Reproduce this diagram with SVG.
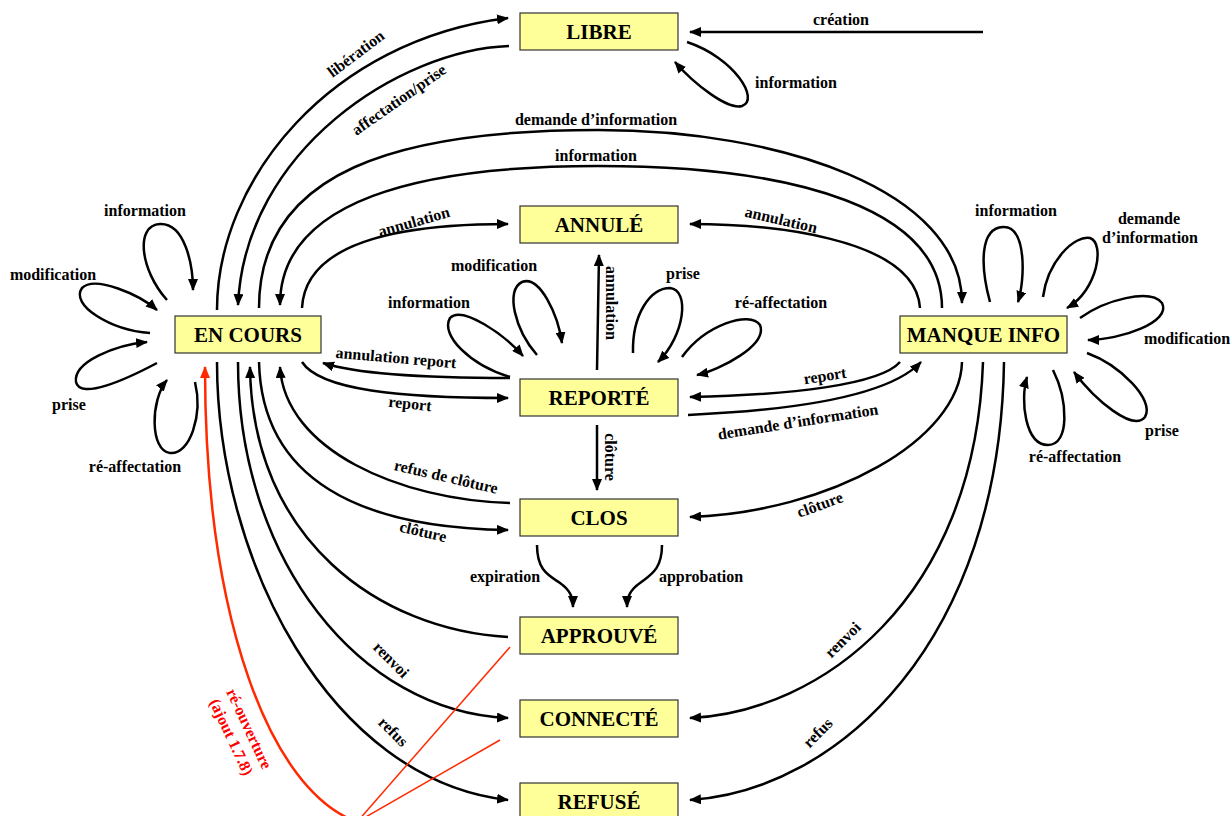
<svg xmlns="http://www.w3.org/2000/svg" width="1232" height="816" viewBox="0 0 1232 816">
  <style>
    .node rect { fill: #FFFF99; stroke: #333333; stroke-width: 1.2; }
    .node text { font-family: "Liberation Serif", "Times New Roman", serif; font-weight: bold; font-size: 21px; fill: #000; text-anchor: middle; }
    .edge { fill: none; stroke: #000; stroke-width: 2.5; marker-end: url(#ah); }
    .red { fill: none; stroke: #FF2A00; stroke-width: 2.5; }
    .redthin { fill: none; stroke: #FF2A00; stroke-width: 1.5; }
    .lbl { font-family: "Liberation Serif", "Times New Roman", serif; font-weight: bold; font-size: 16px; fill: #000; text-anchor: middle; }
    .rlbl { font-family: "Liberation Serif", "Times New Roman", serif; font-weight: bold; font-size: 16px; fill: #FF0000; text-anchor: middle; }
  </style>
  <defs>
    <marker id="ah" viewBox="0 0 12 10" refX="11" refY="5" markerWidth="12" markerHeight="10" markerUnits="userSpaceOnUse" orient="auto">
      <path d="M0,0 L12,5 L0,10 z" fill="#000"/>
    </marker>
    <marker id="ahr" viewBox="0 0 12 10" refX="11" refY="5" markerWidth="12" markerHeight="10" markerUnits="userSpaceOnUse" orient="auto">
      <path d="M0,0 L12,5 L0,10 z" fill="#FF2A00"/>
    </marker>
  </defs>

  <rect x="0" y="0" width="1232" height="816" fill="#FFFFFF"/>

  <!-- transitions -->
  <g id="connectors">
    <!-- creation and LIBRE -->
    <path class="edge" d="M983,32 L690,32"/>
    <path class="edge" d="M687,42 C735,58 760,100 742,106 C728,110 695,85 675,62"/>
    <path class="edge" d="M217,310 C217,180 330,40 508,18"/>
    <path class="edge" d="M509,46 C400,50 245,150 238,305"/>

    <!-- EN COURS <-> MANQUE INFO -->
    <path class="edge" d="M259,308 C259,170 400,130 598,130 C780,130 962,190 962,303"/>
    <path class="edge" d="M942,308 C942,210 800,166 598,166 C420,166 280,200 280,305"/>

    <!-- to ANNULE -->
    <path class="edge" d="M302,308 C305,250 380,224 508,224"/>
    <path class="edge" d="M920,308 C915,235 760,224 690,224"/>
    <path class="edge" d="M597,370 L599,255"/>

    <!-- EN COURS <-> REPORTE / CLOS -->
    <path class="edge" d="M302,362 C320,390 400,398 508,398"/>
    <path class="edge" d="M510,378 C430,378 360,375 323,363"/>
    <path class="edge" d="M510,503 C400,500 285,450 280,367"/>
    <path class="edge" d="M259,362 C262,480 360,528 508,530"/>
    <path class="edge" d="M508,637 C380,630 252,540 250,367"/>
    <path class="edge" d="M238,362 C238,560 360,712 508,718"/>
    <path class="edge" d="M217,362 C217,560 330,780 508,800"/>

    <!-- REPORTE -> CLOS -> APPROUVE -->
    <path class="edge" d="M597,425 L597,490"/>
    <path class="edge" d="M537,545 C537,570 548,575 560,583 C570,590 573,597 573,607"/>
    <path class="edge" d="M662,545 C662,570 650,575 640,583 C630,590 627,597 627,607"/>

    <!-- MANQUE INFO side -->
    <path class="edge" d="M900,362 C880,385 790,395 690,397"/>
    <path class="edge" d="M688,415 C800,410 890,395 921,362"/>
    <path class="edge" d="M962,362 C960,440 830,512 690,517"/>
    <path class="edge" d="M983,362 C975,600 820,712 690,718"/>
    <path class="edge" d="M1004,362 C1000,640 840,790 690,800"/>

    <!-- EN COURS self loops -->
    <path class="edge" d="M167,300 C140,270 135,225 160,224 C185,223 193,265 193,290"/>
    <path class="edge" d="M150,333 C110,330 70,305 82,288 C95,275 140,295 157,310"/>
    <path class="edge" d="M157,363 C125,380 80,400 76,382 C73,362 115,345 147,342"/>
    <path class="edge" d="M195,382 C203,415 190,455 170,453 C150,451 150,400 167,380"/>

    <!-- REPORTE self loops -->
    <path class="edge" d="M510,377 C470,365 440,335 450,318 C462,305 505,335 523,356"/>
    <path class="edge" d="M537,355 C515,330 505,290 522,282 C540,275 558,315 562,343"/>
    <path class="edge" d="M633,353 C632,315 650,288 670,288 C690,290 685,335 658,362"/>
    <path class="edge" d="M682,357 C705,325 750,310 760,325 C768,345 720,370 697,375"/>

    <!-- MANQUE INFO self loops -->
    <path class="edge" d="M990,302 C980,265 980,228 1003,227 C1027,226 1025,280 1018,302"/>
    <path class="edge" d="M1043,297 C1048,260 1075,235 1090,238 C1105,243 1098,290 1067,308"/>
    <path class="edge" d="M1080,318 C1105,300 1150,288 1162,303 C1172,322 1120,340 1088,340"/>
    <path class="edge" d="M1087,353 C1120,365 1155,400 1145,417 C1133,432 1095,400 1074,372"/>
    <path class="edge" d="M1053,370 C1068,400 1070,445 1048,445 C1025,445 1020,400 1027,377"/>

    <!-- re-opening (red) -->
    <path class="red" marker-end="url(#ahr)" d="M357,822 C270,790 205,620 205,367"/>
    <path class="redthin" d="M357,822 L510,647"/>
    <path class="redthin" d="M357,822 L500,740"/>
  </g>

  <!-- transition labels -->
  <g id="labels">
    <text class="lbl" x="841" y="25">création</text>
    <text class="lbl" x="796" y="88">information</text>
    <text class="lbl" transform="translate(356,54) rotate(-37)" x="0" y="5">libération</text>
    <text class="lbl" transform="translate(399,100) rotate(-35)" x="0" y="5">affectation/prise</text>
    <text class="lbl" x="596" y="125">demande d’information</text>
    <text class="lbl" x="596" y="161">information</text>
    <text class="lbl" transform="translate(414,222) rotate(-16)" x="0" y="5">annulation</text>
    <text class="lbl" transform="translate(781,220) rotate(13)" x="0" y="5">annulation</text>
    <text class="lbl" transform="translate(611,303) rotate(90)" x="0" y="5">annulation</text>

    <text class="lbl" x="145" y="216">information</text>
    <text class="lbl" x="53" y="280">modification</text>
    <text class="lbl" x="69" y="410">prise</text>
    <text class="lbl" x="135" y="472">ré-affectation</text>

    <text class="lbl" x="429" y="308">information</text>
    <text class="lbl" x="494" y="271">modification</text>
    <text class="lbl" x="683" y="279">prise</text>
    <text class="lbl" x="781" y="308">ré-affectation</text>

    <text class="lbl" transform="translate(396,358) rotate(5)" x="0" y="5">annulation report</text>
    <text class="lbl" transform="translate(410,404) rotate(6)" x="0" y="5">report</text>
    <text class="lbl" transform="translate(446,477) rotate(13)" x="0" y="5">refus de clôture</text>
    <text class="lbl" transform="translate(423,532) rotate(13)" x="0" y="5">clôture</text>
    <text class="lbl" transform="translate(825,376) rotate(-9)" x="0" y="5">report</text>
    <text class="lbl" transform="translate(798,422) rotate(-9)" x="0" y="5">demande d’information</text>
    <text class="lbl" transform="translate(610,457) rotate(90)" x="0" y="5">clôture</text>
    <text class="lbl" transform="translate(820,505) rotate(-20)" x="0" y="5">clôture</text>
    <text class="lbl" x="505" y="582">expiration</text>
    <text class="lbl" x="701" y="582">approbation</text>
    <text class="lbl" transform="translate(391,660) rotate(45)" x="0" y="5">renvoi</text>
    <text class="lbl" transform="translate(393,732) rotate(45)" x="0" y="5">refus</text>
    <text class="lbl" transform="translate(843,640) rotate(-45)" x="0" y="5">renvoi</text>
    <text class="lbl" transform="translate(818,733) rotate(-45)" x="0" y="5">refus</text>

    <text class="lbl" x="1016" y="216">information</text>
    <text class="lbl" x="1149" y="224">demande</text>
    <text class="lbl" x="1150" y="243">d’information</text>
    <text class="lbl" x="1187" y="344">modification</text>
    <text class="lbl" x="1162" y="436">prise</text>
    <text class="lbl" x="1075" y="462">ré-affectation</text>

    <g transform="translate(240,733) rotate(65)">
      <text class="rlbl" x="0" y="-4.8">ré-ouverture</text>
      <text class="rlbl" x="0" y="14.8">(ajout 1.7.8)</text>
    </g>
  </g>

  <!-- states -->
  <g id="libre" class="node"><rect x="520" y="13" width="158" height="37"/><text x="599" y="39">LIBRE</text></g>
  <g id="annule" class="node"><rect x="520" y="206" width="158" height="37"/><text x="599" y="232">ANNULÉ</text></g>
  <g id="en-cours" class="node"><rect x="175" y="316" width="146" height="37"/><text x="248" y="342">EN COURS</text></g>
  <g id="manque-info" class="node"><rect x="900" y="316" width="167" height="37"/><text x="983.5" y="342">MANQUE INFO</text></g>
  <g id="reporte" class="node"><rect x="520" y="379" width="158" height="37"/><text x="599" y="405">REPORTÉ</text></g>
  <g id="clos" class="node"><rect x="520" y="499" width="158" height="37"/><text x="599" y="525">CLOS</text></g>
  <g id="approuve" class="node"><rect x="520" y="617" width="158" height="37"/><text x="599" y="643">APPROUVÉ</text></g>
  <g id="connecte" class="node"><rect x="520" y="700" width="158" height="37"/><text x="599" y="726">CONNECTÉ</text></g>
  <g id="refuse" class="node"><rect x="520" y="783" width="158" height="37"/><text x="599" y="809">REFUSÉ</text></g>
</svg>
